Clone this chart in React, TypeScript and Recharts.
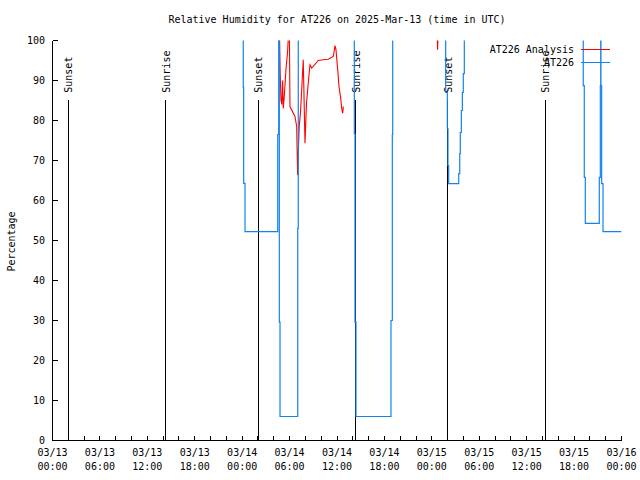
import React from "react";
import { LineChart, Line, XAxis, YAxis, ReferenceLine, Legend } from "recharts";

const FONT = '"DejaVu Sans Mono", "Liberation Mono", monospace';
const RED = "#ff0000";
const BLUE = "#1282f0";

// hours since 03/13 00:00 UTC; values above 100 are clipped off the top like the original
const analysisHours = [
  28.71, 28.81, 28.91, 29.01, 29.12, 29.2, 29.33, 29.55, 29.74, 29.9,
  29.98, 30.05, 30.68, 30.9, 31.01, 31.13, 31.22, 31.38, 31.73, 31.95,
  32.14, 32.39, 32.58, 32.8, 33.63, 34.27, 34.9, 35.53, 35.75, 35.87,
  36.09, 36.25, 36.47, 36.59, 36.72, 36.8, 42.0, 48.65, 48.73, 48.8,
  49.16,
];
const analysisValues = [
  103, 92, 85, 84, 90, 83, 86, 93, 97, 103,
  101, 83.5, 81, 78.5, 66.4, 73.5, 78.5, 82, 95.2, 74.3,
  84.3, 90, 93.9, 93.1, 95, 95.2, 95.3, 96, 98.7, 97.7,
  92.7, 88.5, 85.6, 83.1, 81.8, 83.5, null, 103, 97.7, 103,
  103,
];

const stationHours = [
  24.0, 24.14, 24.19, 24.36, 28.5, 28.62, 28.7, 28.79, 31.03, 31.1,
  38.19, 38.28, 38.4, 42.83, 43.0, 43.05, 49.75, 49.96, 50.04, 50.13,
  51.4, 51.53, 51.6, 51.73, 51.86, 51.98, 52.11, 67.16, 67.29, 67.42,
  69.19, 69.32, 69.37, 69.4, 69.49, 69.66, 72.0,
];
const stationValues = [
  103, 88.3, 64.3, 52.2, 76.5, 103, 29.6, 6, 53, 103,
  76.7, 29.6, 6, 30, 76.5, 103, 87, 78, 68.7, 64.2,
  66.7, 71.7, 77, 82.5, 87, 91.7, 103, 88.7, 65.8, 54.3,
  65.8, 88.7, 103, 88.7, 64.2, 52.2, 52.2,
];

const sunHours = [2.0, 14.36, 26.04, 38.4, 50.0, 62.36];
const sunNames = ["Sunset", "Sunrise", "Sunset", "Sunrise", "Sunset", "Sunrise"];
const sunMarkerTop = 85.2;

const legendNames = ["AT226 Analysis", "AT226"];
const legendColors = [RED, BLUE];

const tickDates = ["03/13", "03/13", "03/13", "03/13", "03/14", "03/14", "03/14", "03/14", "03/15", "03/15", "03/15", "03/15", "03/16"];
const tickTimes = ["00:00", "06:00", "12:00", "18:00", "00:00", "06:00", "12:00", "18:00", "00:00", "06:00", "12:00", "18:00", "00:00"];
const xTicks = Array.from({ length: 37 }, (_, i) => i * 2);
const yTicks = [0, 10, 20, 30, 40, 50, 60, 70, 80, 90, 100];

const analysisData = analysisHours.map((h, i) => ({ h, v: analysisValues[i] }));
const stationData = stationHours.map((h, i) => ({ h, v: stationValues[i] }));

const textStyle = { fontFamily: FONT, fontSize: 10, fill: "#000" };

const BottomTick = (props: any) => {
  const { x, y, payload } = props;
  const idx = payload.value / 6;
  const labelled = Number.isInteger(idx);
  return (
    <g>
      <line x1={x} y1={y} x2={x} y2={y - 5} stroke="#000" shapeRendering="crispEdges" />
      {labelled && (
        <text x={x} y={y + 15.5} textAnchor="middle" {...textStyle}>
          {tickDates[idx]}
        </text>
      )}
      {labelled && (
        <text x={x} y={y + 29.5} textAnchor="middle" {...textStyle}>
          {tickTimes[idx]}
        </text>
      )}
    </g>
  );
};

const TopTick = (props: any) => (
  <line x1={props.x} y1={props.y} x2={props.x} y2={props.y + 5} stroke="#000" shapeRendering="crispEdges" />
);

const LeftTick = (props: any) => {
  const { x, y, payload } = props;
  return (
    <g>
      <line x1={x} y1={y} x2={x + 5} y2={y} stroke="#000" shapeRendering="crispEdges" />
      <text x={x - 7.5} y={y + 3.5} textAnchor="end" {...textStyle}>
        {payload.value}
      </text>
    </g>
  );
};

const RightTick = (props: any) => (
  <line x1={props.x} y1={props.y} x2={props.x - 5} y2={props.y} stroke="#000" shapeRendering="crispEdges" />
);

const sunLabel = (text: string) => (props: any) => {
  const vb = props.viewBox || { x: 0, y: 0 };
  const x = vb.x + 4;
  const y = vb.y - 7;
  return (
    <text x={x} y={y} transform={`rotate(-90 ${x} ${y})`} textAnchor="start" {...textStyle}>
      {text}
    </text>
  );
};

const PercentLabel = (props: any) => {
  const vb = props.viewBox || { x: 0, y: 0, height: 0 };
  const x = vb.x + 6;
  const y = vb.y + vb.height / 2 + 1;
  return (
    <text x={x} y={y} transform={`rotate(-90 ${x} ${y})`} textAnchor="middle" {...textStyle}>
      Percentage
    </text>
  );
};

const renderLegend = () => (
  <div style={{ fontFamily: FONT, fontSize: 10, lineHeight: "13px", color: "#000" }}>
    {legendNames.map((name, i) => (
      <div key={name} style={{ display: "flex", alignItems: "center", justifyContent: "flex-end", height: 13 }}>
        <span>{name}</span>
        <svg width={29} height={3} style={{ marginLeft: 7, display: "block" }}>
          <line x1={0} y1={1.5} x2={29} y2={1.5} stroke={legendColors[i]} strokeWidth={1} />
        </svg>
      </div>
    ))}
  </div>
);

export default function App() {
  return (
    <div style={{ position: "absolute", left: 0, top: 0, width: 640, height: 480, background: "#fff" }}>
      <div
        style={{
          position: "absolute",
          left: 52.5,
          width: 569,
          top: 14,
          textAlign: "center",
          fontFamily: FONT,
          fontSize: 10,
          lineHeight: "12px",
          color: "#000",
          zIndex: 1,
        }}
      >
        Relative Humidity for AT226 on 2025-Mar-13 (time in UTC)
      </div>
      <LineChart width={640} height={480} margin={{ top: 40.5, right: 18.5, bottom: 0, left: 8.5 }}>
        <XAxis
          dataKey="h"
          type="number"
          domain={[0, 72]}
          allowDataOverflow
          ticks={xTicks}
          interval={0}
          height={39.5}
          tickSize={0}
          tickMargin={0}
          tickLine={false}
          tick={BottomTick}
          axisLine={{ stroke: "#000", shapeRendering: "crispEdges" }}
        />
        <XAxis
          xAxisId="top"
          orientation="top"
          dataKey="h"
          type="number"
          domain={[0, 72]}
          allowDataOverflow
          ticks={xTicks}
          interval={0}
          height={0}
          tickSize={0}
          tickMargin={0}
          tickLine={false}
          tick={TopTick}
          axisLine={{ stroke: "#000", shapeRendering: "crispEdges" }}
        />
        <YAxis
          type="number"
          domain={[0, 100]}
          allowDataOverflow
          ticks={yTicks}
          interval={0}
          width={44}
          tickSize={0}
          tickMargin={0}
          tickLine={false}
          tick={LeftTick}
          axisLine={{ stroke: "#000", shapeRendering: "crispEdges" }}
          label={{ value: "Percentage", content: PercentLabel }}
        />
        <YAxis
          yAxisId="right"
          orientation="right"
          type="number"
          domain={[0, 100]}
          allowDataOverflow
          ticks={yTicks}
          interval={0}
          width={0}
          tickSize={0}
          tickMargin={0}
          tickLine={false}
          tick={RightTick}
          axisLine={{ stroke: "#000", shapeRendering: "crispEdges" }}
        />
        {sunHours.map((h, i) => (
          <ReferenceLine
            key={`sun-${i}`}
            segment={[
              { x: h, y: 0 },
              { x: h, y: sunMarkerTop },
            ]}
            stroke="#000"
            strokeWidth={1}
            shapeRendering="crispEdges"
            label={{ value: sunNames[i], content: sunLabel(sunNames[i]) }}
          />
        ))}
        <Line
          data={analysisData}
          dataKey="v"
          name="AT226 Analysis"
          type="linear"
          stroke={RED}
          strokeWidth={1.1}
          dot={false}
          activeDot={false}
          connectNulls={false}
          isAnimationActive={false}
        />
        <Line
          data={stationData}
          dataKey="v"
          name="AT226"
          type="stepAfter"
          stroke={BLUE}
          strokeWidth={1.2}
          dot={false}
          activeDot={false}
          isAnimationActive={false}
        />
        <Legend
          layout="vertical"
          verticalAlign="middle"
          align="center"
          content={renderLegend}
          wrapperStyle={{ top: 43, left: 420, width: 190 }}
        />
      </LineChart>
    </div>
  );
}
